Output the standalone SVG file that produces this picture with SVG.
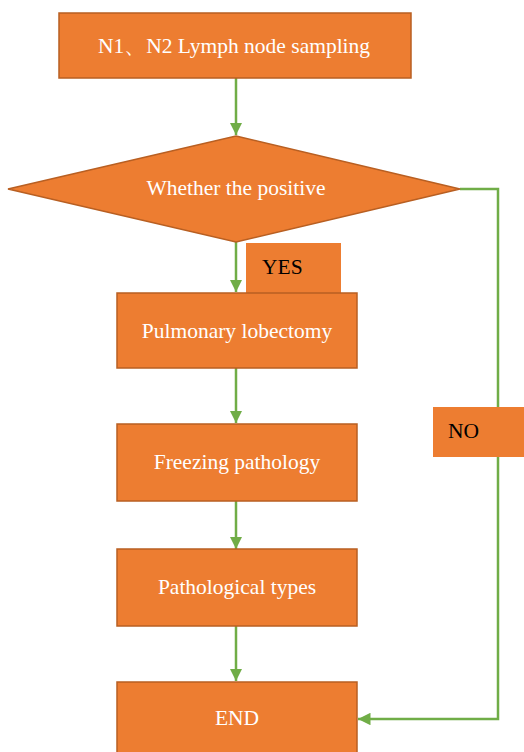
<svg xmlns="http://www.w3.org/2000/svg" width="524" height="752" viewBox="0 0 524 752">
<defs>
<style>
.box{fill:#ED7D31;stroke:#B85F22;stroke-width:1.5}
.lbl{fill:#ED7D31;stroke:none}
.t{font-family:"Liberation Serif","Times New Roman",serif;font-size:21.5px;fill:#FFFFFF;text-anchor:middle}
.k{font-family:"Liberation Serif","Times New Roman",serif;font-size:21.5px;fill:#000000}
.c{fill:none;stroke:#70AD47;stroke-width:2.5}
</style>
<marker id="ah" viewBox="0 0 10 10" refX="10" refY="5" markerWidth="5" markerHeight="5" markerUnits="strokeWidth" orient="auto">
<path d="M0,0 L10,5 L0,10 Z" fill="#70AD47"/>
</marker>
</defs>
<rect width="524" height="752" fill="#FFFFFF"/>
<g id="connectors">
<line class="c" x1="236" y1="78" x2="236" y2="135" marker-end="url(#ah)"/>
<line class="c" x1="236" y1="242" x2="236" y2="292" marker-end="url(#ah)"/>
<line class="c" x1="236" y1="368" x2="236" y2="423" marker-end="url(#ah)"/>
<line class="c" x1="236" y1="501" x2="236" y2="549" marker-end="url(#ah)"/>
<line class="c" x1="236" y1="626" x2="236" y2="681" marker-end="url(#ah)"/>
<polyline class="c" points="460,189 498,189 498,719 358,719" marker-end="url(#ah)"/>
</g>
<g id="n1">
<rect class="box" x="59" y="13" width="352" height="65"/>
<text class="t" x="234" y="53">N1、N2 Lymph node sampling</text>
</g>
<g id="n2">
<polygon class="box" points="236,136 460,189 236,242 8,189"/>
<text class="t" x="236" y="195">Whether the positive</text>
</g>
<g id="yes">
<rect class="lbl" x="246" y="243" width="95" height="50"/>
<text class="k" x="262" y="274">YES</text>
</g>
<g id="n3">
<rect class="box" x="117" y="293" width="240" height="75"/>
<text class="t" x="237" y="338">Pulmonary lobectomy</text>
</g>
<g id="no">
<rect class="lbl" x="433" y="407" width="91" height="50"/>
<text class="k" x="448" y="438">NO</text>
</g>
<g id="n4">
<rect class="box" x="117" y="424" width="240" height="77"/>
<text class="t" x="237" y="469">Freezing pathology</text>
</g>
<g id="n5">
<rect class="box" x="117" y="549" width="240" height="77"/>
<text class="t" x="237" y="594">Pathological types</text>
</g>
<g id="n6">
<rect class="box" x="117" y="682" width="240" height="80"/>
<text class="t" x="237" y="725">END</text>
</g>
</svg>
